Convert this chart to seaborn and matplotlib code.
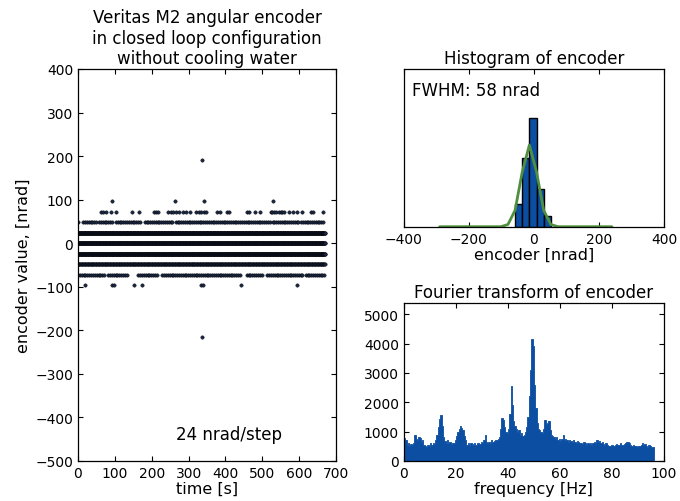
import numpy as np
import pandas as pd
import matplotlib
matplotlib.use("Agg")
import matplotlib.pyplot as plt
import seaborn as sns

# ---------------- data ----------------
# encoder levels [nrad] and time segments [s] where points are dense
seg_p48 = [(0, 3), (14, 50), (57, 96), (103, 168), (181, 260), (265, 300),
           (305, 420), (425, 520), (528, 600), (605, 668)]
seg_p24 = [(0, 670)]
seg_0 = [(0, 670)]
seg_m24 = [(0, 670)]
seg_m48 = [(0, 670)]
seg_m72 = [(0, 30), (36, 75), (82, 134), (164, 215), (229, 441), (458, 500),
           (514, 613), (618, 672)]
# isolated points (time [s])
t_p96 = [91, 262, 342, 530]
t_p72 = [62, 69, 75, 89, 103, 146, 166, 206, 213, 217, 245, 252, 259, 266, 273,
         286, 293, 304, 319, 328, 335, 342, 346, 378, 384, 403, 410, 459, 464,
         480, 493, 523, 527, 532, 536, 545, 550, 554, 559, 572, 583, 595, 608,
         631, 637, 665]
t_m96 = [18, 91, 98, 152, 175, 333, 338, 441, 593]
t_p192 = [336]
t_m216 = [336]

# histogram of encoder (density) and gaussian fit
hist_edges = [-59, -37, -14, 8, 30, 52]
hist_centers = [-48, -25, -3, 19, 41]
hist_density = [0.00453, 0.01366, 0.02165, 0.00753, 0.00220]
gauss_x = [-290, -102, -80, -58, -36, -14, 8, 30, 52, 74, 240]
gauss_y = [0.0, 0.0, 0.00044, 0.00328, 0.01093, 0.01632, 0.01093, 0.00328,
           0.00044, 0.0, 0.0]

# Fourier transform amplitude, 0.5 Hz bins starting at 0 Hz
fft_amp = [780, 700, 560, 600, 520, 580, 540, 620, 880, 760,
           700, 820, 790, 650, 700, 560, 520, 480, 560, 520,
           600, 560, 620, 580, 720, 900, 1150, 1420, 1560, 1200,
           820, 680, 620, 700, 600, 640, 580, 620, 600, 700,
           860, 1000, 1100, 1180, 1120, 1050, 860, 700, 560, 600,
           540, 620, 580, 560, 600, 540, 620, 600, 580, 640,
           620, 700, 880, 660, 620, 660, 600, 700, 640, 680,
           720, 700, 760, 820, 1100, 1450, 1400, 1150, 1000, 950,
           1100, 1600, 2540, 1900, 1350, 1200, 1100, 1000, 1050, 900,
           950, 860, 900, 1000, 1150, 1500, 2200, 3100, 4150, 3900,
           2600, 1800, 1300, 1100, 1050, 1000, 950, 1100, 1380, 1250,
           1300, 1350, 1050, 900, 850, 800, 760, 820, 700, 760,
           680, 740, 880, 720, 760, 700, 660, 720, 680, 640,
           700, 660, 620, 680, 640, 600, 620, 580, 640, 600,
           560, 600, 580, 620, 560, 600, 640, 620, 700, 660,
           680, 620, 640, 580, 560, 600, 540, 520, 500, 540,
           560, 520, 540, 580, 560, 540, 600, 560, 540, 580,
           620, 660, 640, 600, 540, 520, 560, 500, 520, 480,
           520, 500, 560, 600, 540, 580, 520, 480, 540, 500,
           460, 480]
fft_freq = [0.5 * i for i in range(len(fft_amp))]

# ---------------- build scatter table ----------------
def seg_points(segs, level, step):
    ts = []
    for a, b in segs:
        ts.extend(np.arange(a, b + 1e-9, step))
    return pd.DataFrame({"t": ts, "v": level})

frames = [
    seg_points(seg_p48, 48, 5.0),
    seg_points(seg_p24, 24, 1.0),
    seg_points(seg_0, 0, 1.0),
    seg_points(seg_m24, -24, 1.0),
    seg_points(seg_m48, -48, 2.0),
    seg_points(seg_m72, -72, 5.0),
    pd.DataFrame({"t": t_p96, "v": 96}),
    pd.DataFrame({"t": t_p72, "v": 72}),
    pd.DataFrame({"t": t_m96, "v": -96}),
    pd.DataFrame({"t": t_p192, "v": 192}),
    pd.DataFrame({"t": t_m216, "v": -216}),
]
enc = pd.concat(frames, ignore_index=True)

# ---------------- style ----------------
sns.set_style("ticks")
plt.rcParams.update({
    "font.family": ["DejaVu Sans"],
    "text.color": "black", "axes.labelcolor": "black",
    "xtick.direction": "in", "ytick.direction": "in",
    "xtick.top": True, "ytick.right": True,
    "xtick.labelsize": 10, "ytick.labelsize": 10,
    "axes.edgecolor": "black", "axes.linewidth": 0.9,
    "xtick.color": "black", "ytick.color": "black",
    "xtick.major.size": 3.5, "ytick.major.size": 3.5,
})
BLUE = "#0b4ea2"

fig = plt.figure(figsize=(6.8, 5.02), dpi=100)
ax1 = fig.add_axes([0.1147, 0.0797, 0.3794, 0.7809])
ax2 = fig.add_axes([0.594, 0.5464, 0.3824, 0.3141])
ax3 = fig.add_axes([0.594, 0.0797, 0.3824, 0.3147])

# left: encoder value vs time
sns.scatterplot(data=enc, x="t", y="v", ax=ax1, s=6, color="#1a2744",
                edgecolor="black", linewidth=0.3, legend=False)
ax1.set_xlim(0, 700)
ax1.set_ylim(-500, 400)
ax1.set_xticks(range(0, 701, 100))
ax1.set_yticks(range(-500, 401, 100))
ax1.set_xlabel("time [s]", fontsize=11.5, labelpad=1)
ax1.set_ylabel("encoder value, [nrad]", fontsize=11.5, labelpad=3)
ax1.set_title("Veritas M2 angular encoder\nin closed loop configuration\nwithout cooling water",
              fontsize=12, pad=4, linespacing=1.2)
ax1.text(265, -450, "24 nrad/step", fontsize=12)

# top right: histogram
sns.histplot(x=hist_centers, weights=hist_density, bins=hist_edges, ax=ax2,
             stat="count", color=BLUE, alpha=1, edgecolor="black", linewidth=1)
sns.lineplot(x=gauss_x, y=gauss_y, ax=ax2, color="#4f8f3f", linewidth=2)
ax2.set_xlim(-400, 400)
ax2.set_ylim(0, 0.0315)
ax2.set_xticks([-400, -200, 0, 200, 400])
ax2.set_yticks([])
ax2.set_ylabel("")
ax2.set_xlabel("encoder [nrad]", fontsize=11.5, labelpad=1)
ax2.set_title("Histogram of encoder", fontsize=12, pad=4)
ax2.text(0.03, 0.835, "FWHM: 58 nrad", transform=ax2.transAxes, fontsize=12)

# bottom right: Fourier transform
sns.histplot(x=fft_freq, weights=fft_amp, binwidth=0.5, binrange=(0, 96), ax=ax3,
             stat="count", element="step", fill=True, color=BLUE, alpha=1,
             linewidth=0.6)
ax3.set_xlim(0, 100)
ax3.set_ylim(0, 5380)
ax3.set_xticks(range(0, 101, 20))
ax3.set_yticks(range(0, 5001, 1000))
ax3.set_ylabel("")
ax3.set_xlabel("frequency [Hz]", fontsize=11.5, labelpad=1)
ax3.set_title("Fourier transform of encoder", fontsize=12, pad=4)

fig.savefig("out.png", dpi=100)
